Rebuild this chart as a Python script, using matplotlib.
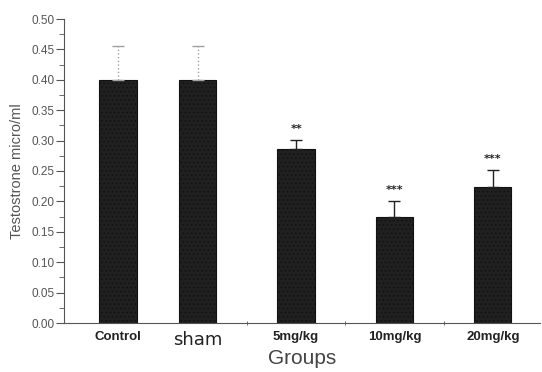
import matplotlib.pyplot as plt
from matplotlib.ticker import MultipleLocator

groups = ["Control", "sham", "5mg/kg", "10mg/kg", "20mg/kg"]
means = [0.40, 0.40, 0.286, 0.175, 0.224]
errors = [0.055, 0.055, 0.015, 0.026, 0.028]
stars = ["", "", "**", "***", "***"]

xpos = [0.19, 1.0, 2.0, 3.0, 4.0]
err_colors = ["#a0a0a0", "#a0a0a0", "#222222", "#222222", "#222222"]
err_styles = [":", ":", "-", "-", "-"]

plt.rcParams["font.family"] = ["Liberation Sans", "DejaVu Sans"]
plt.rcParams["hatch.color"] = "#6a6a6a"
plt.rcParams["hatch.linewidth"] = 0.6

fig = plt.figure(figsize=(5.42, 3.72), dpi=100)
ax = fig.add_axes([64 / 542, 49 / 372, 476 / 542, 304 / 372])

ax.bar(xpos, means, width=0.38, color="#202020", edgecolor="#111111",
       linewidth=0.8, hatch="....", zorder=2)

for i in range(len(groups)):
    eb = ax.errorbar(xpos[i], means[i], yerr=[[0], [errors[i]]], fmt="none",
                     ecolor=err_colors[i], elinewidth=1.0, capsize=4,
                     capthick=1.0, zorder=3)
    eb[2][0].set_linestyle(err_styles[i])
    if stars[i]:
        ax.text(xpos[i], means[i] + errors[i] + 0.01, stars[i],
                ha="center", va="bottom", fontsize=8, fontweight="bold",
                family="DejaVu Sans", color="#222222")

ax.set_xlim(-0.36, 4.48)
ax.set_ylim(0, 0.5)
ax.yaxis.set_major_locator(MultipleLocator(0.05))
ax.yaxis.set_minor_locator(MultipleLocator(0.025))
ax.set_yticklabels([f"{v:.2f}" for v in ax.get_yticks()])
ax.tick_params(axis="y", which="major", length=6, labelsize=8.5,
               labelcolor="#555555", color="#555555", pad=1)
ax.tick_params(axis="y", which="minor", length=3.5, color="#555555")

ax.set_xticks(xpos)
ax.set_xticklabels(groups)
ax.set_xticks([1.5, 2.5, 3.5], minor=True)
ax.tick_params(axis="x", which="major", length=0, labelsize=9.5, pad=6)
ax.tick_params(axis="x", which="minor", length=3, direction="inout",
               color="#555555")
for lbl in ax.get_xticklabels():
    lbl.set_fontweight("bold")
    lbl.set_color("#222222")
ax.get_xticklabels()[1].set_fontsize(13)
ax.get_xticklabels()[1].set_fontfamily("DejaVu Sans")
ax.get_xticklabels()[1].set_fontweight("normal")

for s in ["top", "right"]:
    ax.spines[s].set_visible(False)
ax.spines["left"].set_color("#555555")
ax.spines["bottom"].set_color("#555555")

ax.set_ylabel("Testostrone micro/ml", fontsize=10.5, color="#555555",
              labelpad=5)
ax.set_xlabel("Groups", fontsize=15, color="#444444", labelpad=0)

fig.savefig("out.png", dpi=100)
